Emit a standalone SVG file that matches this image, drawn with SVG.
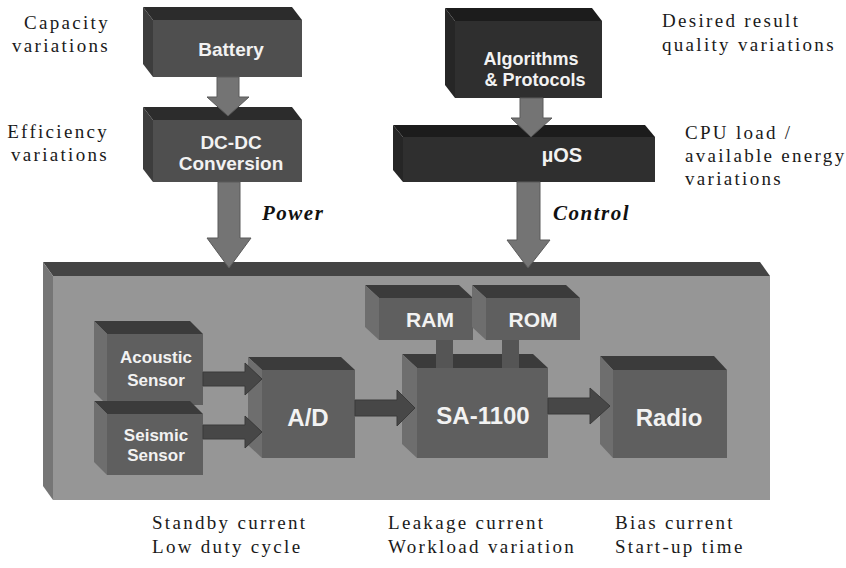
<svg xmlns="http://www.w3.org/2000/svg" width="846" height="568" viewBox="0 0 846 568">
<style>
.lbl{font-family:"Liberation Serif","Times New Roman",serif;font-size:19px;fill:#1a1a1a;letter-spacing:2.3px}
.it{font-family:"Liberation Serif","Times New Roman",serif;font-size:21px;font-weight:bold;font-style:italic;fill:#111;letter-spacing:1.5px}
.bt{font-family:"Liberation Sans",Arial,sans-serif;font-weight:bold;fill:#f2f2f2;text-anchor:middle}
.f1{fill:#4f4f4f}.t1{fill:#2c2c2c}.s1{fill:#3d3d3d}
.f2{fill:#2f2f2f}.t2{fill:#1c1c1c}.s2{fill:#262626}
.f3{fill:#5f5f5f}.t3{fill:#3b3b3b}.s3{fill:#6e6e6e}
.fm{fill:#969696}.tm{fill:#444}.sm{fill:#767676}
.av{fill:#747474;stroke:#5a5a5a;stroke-width:1}
.ah{fill:#474747;stroke:#3a3a3a;stroke-width:1}
.as{fill:#555}
</style>

<g id="platform">
<polygon class="tm" points="43,262 760,262 770,276 53,276"/>
<polygon class="sm" points="43,262 53,276 53,500 43,486"/>
<rect class="fm" x="53" y="276" width="717" height="224"/>
</g>

<g id="battery">
<polygon class="t1" points="143,7 292,7 302,20 153,20"/>
<polygon class="s1" points="143,7 153,20 153,77 143,64"/>
<rect class="f1" x="153" y="20" width="149" height="57"/>
<text class="bt" x="231" y="56" font-size="19">Battery</text>
</g>

<g id="dcdc">
<polygon class="t1" points="143,107 292,107 302,120 153,120"/>
<polygon class="s1" points="143,107 153,120 153,182 143,169"/>
<rect class="f1" x="153" y="120" width="149" height="62"/>
<text class="bt" x="231" y="149" font-size="19">DC-DC</text>
<text class="bt" x="231" y="170" font-size="19">Conversion</text>
</g>

<g id="algorithms">
<polygon class="t2" points="445,8 592,8 602,21 455,21"/>
<polygon class="s2" points="445,8 455,21 455,98 445,85"/>
<rect class="f2" x="455" y="21" width="147" height="77"/>
<text class="bt" x="531" y="65" font-size="18">Algorithms</text>
<text class="bt" x="535" y="86" font-size="18">&amp; Protocols</text>
</g>

<g id="uos">
<polygon class="t2" points="393,125 645,125 655,137 403,137"/>
<polygon class="s2" points="393,125 403,137 403,182 393,170"/>
<rect class="f2" x="403" y="137" width="252" height="45"/>
<text class="bt" x="562" y="162" font-size="20">µOS</text>
</g>

<g id="acoustic">
<polygon class="t3" points="94,321 190,321 203,334 107,334"/>
<polygon class="s3" points="94,321 107,334 107,405 94,392"/>
<rect class="f3" x="107" y="334" width="96" height="71"/>
<text class="bt" x="156" y="363" font-size="17">Acoustic</text>
<text class="bt" x="156" y="386" font-size="17">Sensor</text>
</g>

<g id="seismic">
<polygon class="t3" points="94,401 190,401 203,414 107,414"/>
<polygon class="s3" points="94,401 107,414 107,475 94,462"/>
<rect class="f3" x="107" y="414" width="96" height="61"/>
<text class="bt" x="156" y="441" font-size="17">Seismic</text>
<text class="bt" x="156" y="461" font-size="17">Sensor</text>
</g>

<g id="ad">
<polygon class="t3" points="248,357 341,357 355,370 262,370"/>
<polygon class="s3" points="248,357 262,370 262,458 248,445"/>
<rect class="f3" x="262" y="370" width="93" height="88"/>
<text class="bt" x="308" y="426" font-size="24">A/D</text>
</g>

<g id="ram">
<polygon class="t3" points="365,285 459,285 473,298 379,298"/>
<polygon class="s3" points="365,285 379,298 379,340 365,327"/>
<rect class="f3" x="379" y="298" width="94" height="42"/>
<text class="bt" x="430" y="327" font-size="21">RAM</text>
</g>

<g id="rom">
<polygon class="t3" points="472,285 566,285 580,298 486,298"/>
<polygon class="s3" points="472,285 486,298 486,340 472,327"/>
<rect class="f3" x="486" y="298" width="94" height="42"/>
<text class="bt" x="533" y="327" font-size="21">ROM</text>
</g>

<g id="sa1100">
<polygon class="t3" points="402,354 533,354 548,368 417,368"/>
<polygon class="s3" points="402,354 417,368 417,458 402,444"/>
<rect class="f3" x="417" y="368" width="131" height="90"/>
<text class="bt" x="483" y="424" font-size="24">SA-1100</text>
</g>

<g id="radio">
<polygon class="t3" points="600,356 714,356 727,370 613,370"/>
<polygon class="s3" points="600,356 613,370 613,458 600,444"/>
<rect class="f3" x="613" y="370" width="114" height="88"/>
<text class="bt" x="669" y="426" font-size="24">Radio</text>
</g>

<g id="connectors">
<polygon class="av" points="217,77 239,77 239,97 249,97 228,116 207,97 217,97"/>
<polygon class="av" points="218,182 240,182 240,238 251,238 229,268 207,238 218,238"/>
<polygon class="av" points="520,98 543,98 543,118 552,118 531,137 511,118 520,118"/>
<polygon class="av" points="517,182 540,182 540,240 550,240 528,268 507,240 517,240"/>
<polygon class="ah" points="203,372 245,372 245,363 262,379 245,395 245,386 203,386"/>
<polygon class="ah" points="203,425 245,425 245,416 262,432 245,448 245,439 203,439"/>
<polygon class="ah" points="355,400 397,400 397,390 415,408 397,426 397,416 355,416"/>
<polygon class="ah" points="548,398 590,398 590,388 610,406 590,424 590,414 548,414"/>
<rect class="as" x="436" y="340" width="17" height="28"/>
<rect class="as" x="502" y="340" width="17" height="28"/>
</g>

<g id="labels">
<text class="lbl" x="110" y="29" text-anchor="end">Capacity</text>
<text class="lbl" x="110" y="52" text-anchor="end">variations</text>
<text class="lbl" x="109" y="138" text-anchor="end">Efficiency</text>
<text class="lbl" x="109" y="161" text-anchor="end">variations</text>
<text class="it" x="262" y="220">Power</text>
<text class="it" x="553" y="220">Control</text>
<text class="lbl" x="662" y="27">Desired result</text>
<text class="lbl" x="662" y="51">quality variations</text>
<text class="lbl" x="685" y="139">CPU load /</text>
<text class="lbl" x="685" y="162">available energy</text>
<text class="lbl" x="685" y="185">variations</text>
<text class="lbl" x="152" y="529">Standby current</text>
<text class="lbl" x="152" y="553">Low duty cycle</text>
<text class="lbl" x="388" y="529">Leakage current</text>
<text class="lbl" x="388" y="553">Workload variation</text>
<text class="lbl" x="615" y="529">Bias current</text>
<text class="lbl" x="615" y="553">Start-up time</text>
</g>
</svg>
